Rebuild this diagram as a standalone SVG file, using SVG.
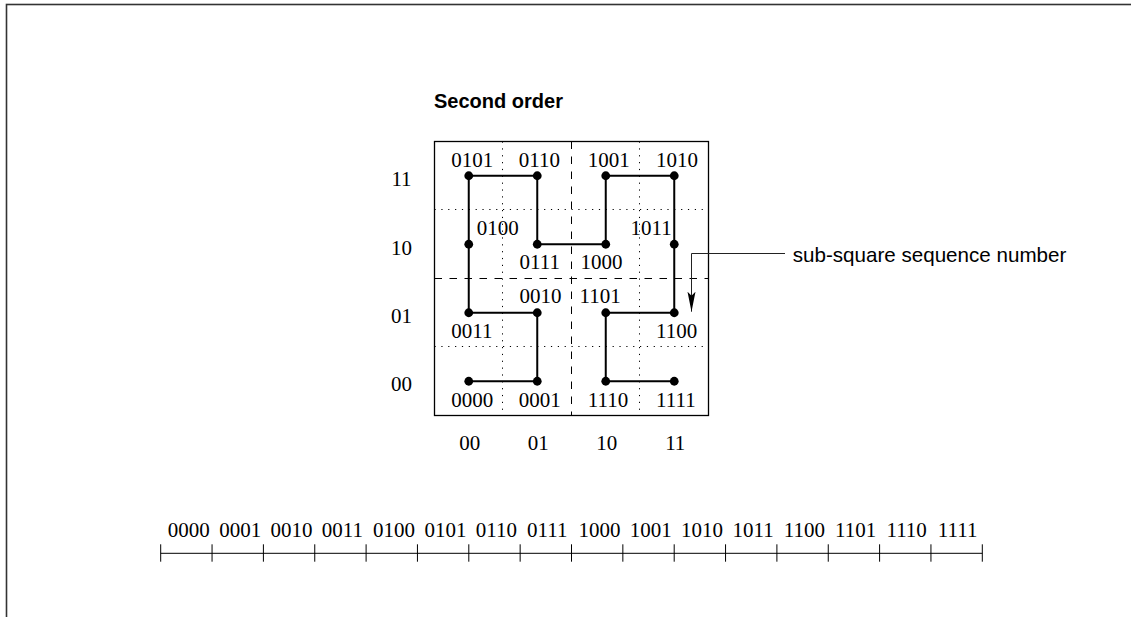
<svg xmlns="http://www.w3.org/2000/svg" width="1131" height="617" viewBox="0 0 1131 617">
<style>
.serif{font-family:"Liberation Serif","Times New Roman",serif;font-size:21px;fill:#000}
.mid{text-anchor:middle}
.sans{font-family:"Liberation Sans",Arial,sans-serif;font-size:20px;fill:#000}
.path{fill:none;stroke:#000;stroke-width:2}
.dot{fill:#000}
.dotted{stroke:#000;stroke-width:1;stroke-dasharray:1.2 5.65;fill:none}
.dashed{stroke:#000;stroke-width:1;stroke-dasharray:7.5 7.5;fill:none}
.thin{stroke:#000;stroke-width:1;fill:none}
</style>
<defs>
<marker id="arr" viewBox="0 0 20 10" refX="20" refY="5" markerWidth="20" markerHeight="10" markerUnits="userSpaceOnUse" orient="auto">
<path d="M0,1 L20,5 L0,9 L4,5 Z" fill="#000"/>
</marker>
</defs>
<rect x="6.5" y="4.5" width="1200" height="700" fill="none" stroke="#333" stroke-width="1.6"/>

<g id="title"><text class="sans" x="434" y="108" font-weight="bold">Second order</text></g>

<g id="grid">
<line class="dotted" x1="502.5" y1="141.5" x2="502.5" y2="415.5"/>
<line class="dotted" x1="639.5" y1="141.5" x2="639.5" y2="415.5"/>
<line class="dotted" x1="434.5" y1="209.5" x2="708.5" y2="209.5"/>
<line class="dotted" x1="434.5" y1="346.5" x2="708.5" y2="346.5"/>
<line class="dashed" x1="571.5" y1="141.5" x2="571.5" y2="415.5"/>
<line class="dashed" x1="434.5" y1="278.5" x2="708.5" y2="278.5"/>
<rect x="434.5" y="141.5" width="274" height="274" fill="none" stroke="#000" stroke-width="1.3"/>
</g>

<g id="curve">
<polyline class="path" points="468.75,381.25 537.25,381.25 537.25,312.75 468.75,312.75 468.75,244.25 468.75,175.75 537.25,175.75 537.25,244.25 605.75,244.25 605.75,175.75 674.25,175.75 674.25,244.25 674.25,312.75 605.75,312.75 605.75,381.25 674.25,381.25"/>
<g id="n0000"><circle class="dot" cx="468.75" cy="381.25" r="4.4"/><text class="serif" x="451.2" y="406.7">0000</text></g>
<g id="n0001"><circle class="dot" cx="537.25" cy="381.25" r="4.4"/><text class="serif" x="518.8" y="406.7">0001</text></g>
<g id="n0010"><circle class="dot" cx="537.25" cy="312.75" r="4.4"/><text class="serif" x="519.5" y="303.3">0010</text></g>
<g id="n0011"><circle class="dot" cx="468.75" cy="312.75" r="4.4"/><text class="serif" x="451.2" y="338.3">0011</text></g>
<g id="n0100"><circle class="dot" cx="468.75" cy="244.25" r="4.4"/><text class="serif" x="476.8" y="235">0100</text></g>
<g id="n0101"><circle class="dot" cx="468.75" cy="175.75" r="4.4"/><text class="serif" x="451.2" y="166.5">0101</text></g>
<g id="n0110"><circle class="dot" cx="537.25" cy="175.75" r="4.4"/><text class="serif" x="518.8" y="166.5">0110</text></g>
<g id="n0111"><circle class="dot" cx="537.25" cy="244.25" r="4.4"/><text class="serif" x="519.5" y="269.3">0111</text></g>
<g id="n1000"><circle class="dot" cx="605.75" cy="244.25" r="4.4"/><text class="serif" x="580.5" y="269.3">1000</text></g>
<g id="n1001"><circle class="dot" cx="605.75" cy="175.75" r="4.4"/><text class="serif" x="587.8" y="166.5">1001</text></g>
<g id="n1010"><circle class="dot" cx="674.25" cy="175.75" r="4.4"/><text class="serif" x="656.1" y="166.5">1010</text></g>
<g id="n1011"><circle class="dot" cx="674.25" cy="244.25" r="4.4"/><text class="serif" x="630.6" y="235">1011</text></g>
<g id="n1100"><circle class="dot" cx="674.25" cy="312.75" r="4.4"/><text class="serif" x="656" y="338.3">1100</text></g>
<g id="n1101"><circle class="dot" cx="605.75" cy="312.75" r="4.4"/><text class="serif" x="579.5" y="303.3">1101</text></g>
<g id="n1110"><circle class="dot" cx="605.75" cy="381.25" r="4.4"/><text class="serif" x="587.8" y="406.7">1110</text></g>
<g id="n1111"><circle class="dot" cx="674.25" cy="381.25" r="4.4"/><text class="serif" x="656" y="406.7">1111</text></g>
</g>

<g id="axes">
<text class="serif mid" x="401.5" y="186">11</text>
<text class="serif mid" x="401.5" y="254.5">10</text>
<text class="serif mid" x="401.5" y="322.5">01</text>
<text class="serif mid" x="401.5" y="391">00</text>
<text class="serif mid" x="469.75" y="450">00</text>
<text class="serif mid" x="538.25" y="450">01</text>
<text class="serif mid" x="606.75" y="450">10</text>
<text class="serif mid" x="675.25" y="450">11</text>
</g>

<g id="note"><text class="sans" x="792.7" y="261.7" style="font-size:20.6px">sub-square sequence number</text></g>

<g id="connectors">
<path d="M785,253.5 H691.5 V311.7" fill="none" stroke="#222" stroke-width="1" marker-end="url(#arr)"/>
</g>

<g id="scale">
<path class="thin" d="M160.7,553.3 H982.3"/>
<path class="thin" d="M160.7,544.3 V561.7 M212.05,544.3 V561.7 M263.4,544.3 V561.7 M314.75,544.3 V561.7 M366.1,544.3 V561.7 M417.45,544.3 V561.7 M468.8,544.3 V561.7 M520.15,544.3 V561.7 M571.5,544.3 V561.7 M622.85,544.3 V561.7 M674.2,544.3 V561.7 M725.55,544.3 V561.7 M776.9,544.3 V561.7 M828.25,544.3 V561.7 M879.6,544.3 V561.7 M930.95,544.3 V561.7 M982.3,544.3 V561.7"/>
<text class="serif" x="167.8" y="536.7">0000</text>
<text class="serif" x="219.13" y="536.7">0001</text>
<text class="serif" x="270.46" y="536.7">0010</text>
<text class="serif" x="321.79" y="536.7">0011</text>
<text class="serif" x="373.12" y="536.7">0100</text>
<text class="serif" x="424.45" y="536.7">0101</text>
<text class="serif" x="475.78" y="536.7">0110</text>
<text class="serif" x="527.11" y="536.7">0111</text>
<text class="serif" x="578.44" y="536.7">1000</text>
<text class="serif" x="629.77" y="536.7">1001</text>
<text class="serif" x="681.1" y="536.7">1010</text>
<text class="serif" x="732.43" y="536.7">1011</text>
<text class="serif" x="783.76" y="536.7">1100</text>
<text class="serif" x="835.09" y="536.7">1101</text>
<text class="serif" x="886.42" y="536.7">1110</text>
<text class="serif" x="937.75" y="536.7">1111</text>
</g>
</svg>
